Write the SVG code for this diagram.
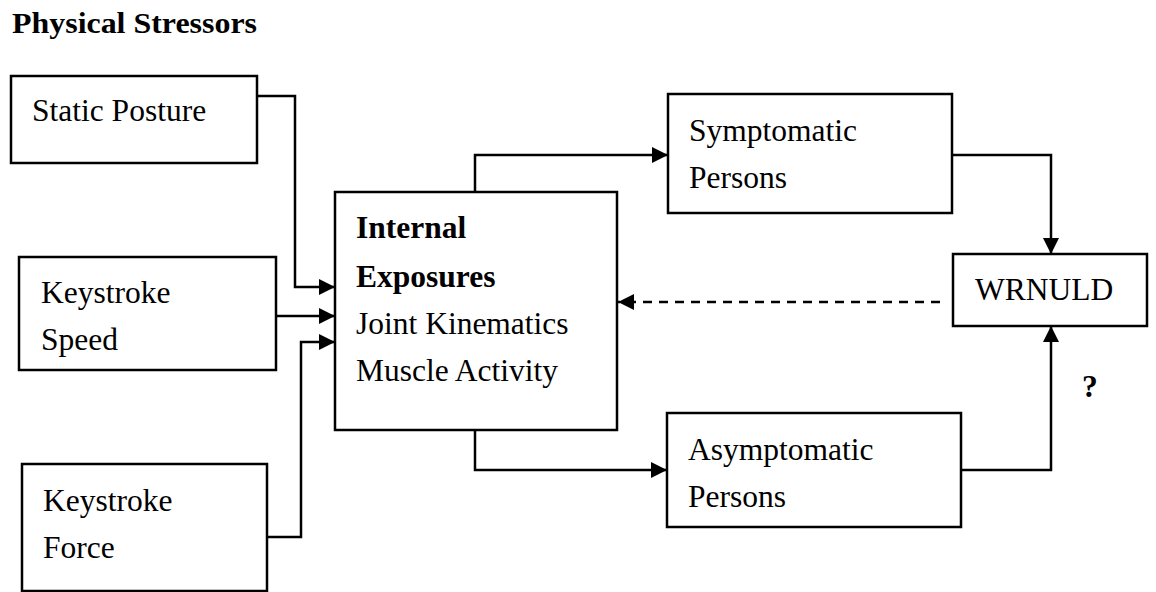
<svg xmlns="http://www.w3.org/2000/svg" width="1156" height="592" viewBox="0 0 1156 592">
<style>
.box{fill:#fff;stroke:#000;stroke-width:2.5}
.t{font-family:"Liberation Serif","Times New Roman",serif;font-size:31.5px;fill:#000}
.b{font-weight:bold}
.c{fill:none;stroke:#000;stroke-width:2.5}
.d{stroke-dasharray:9 7}
</style>
<defs>
<marker id="ah" markerUnits="userSpaceOnUse" markerWidth="16" markerHeight="16" viewBox="0 0 16 16" refX="16" refY="8" orient="auto">
<path d="M0,0 L16,8 L0,16 Z" fill="#000"/>
</marker>
</defs>
<rect width="1156" height="592" fill="#fff"/>
<text id="title" class="t b" x="12" y="33" style="font-size:29px" textLength="245" lengthAdjust="spacingAndGlyphs">Physical Stressors</text>
<g id="connectors">
<path class="c" d="M257,96 H295 V287 H335" marker-end="url(#ah)"/>
<path class="c" d="M272,316 H335" marker-end="url(#ah)"/>
<path class="c" d="M266,537 H301 V342 H335" marker-end="url(#ah)"/>
<path class="c" d="M475,192 V155 H668" marker-end="url(#ah)"/>
<path class="c" d="M475,430 V470 H667" marker-end="url(#ah)"/>
<path class="c" d="M952,155 H1051 V254" marker-end="url(#ah)"/>
<path class="c" d="M960,470 H1051 V326" marker-end="url(#ah)"/>
<path class="c d" d="M940,302 H618" marker-end="url(#ah)"/>
</g>
<g id="static-posture">
<rect class="box" x="11" y="76" width="246" height="87"/>
<text class="t" x="32" y="121">Static Posture</text>
</g>
<g id="keystroke-speed">
<rect class="box" x="19" y="257" width="257" height="113"/>
<text class="t" x="41" y="303">Keystroke</text>
<text class="t" x="41" y="350">Speed</text>
</g>
<g id="keystroke-force">
<rect class="box" x="22" y="464" width="245" height="127"/>
<text class="t" x="43" y="511">Keystroke</text>
<text class="t" x="43" y="558">Force</text>
</g>
<g id="internal-exposures">
<rect class="box" x="335" y="192" width="282" height="238"/>
<text class="t b" x="356" y="238">Internal</text>
<text class="t b" x="356" y="287">Exposures</text>
<text class="t" x="356" y="334">Joint Kinematics</text>
<text class="t" x="356" y="381">Muscle Activity</text>
</g>
<g id="symptomatic">
<rect class="box" x="668" y="94" width="284" height="119"/>
<text class="t" x="689" y="141">Symptomatic</text>
<text class="t" x="689" y="188">Persons</text>
</g>
<g id="asymptomatic">
<rect class="box" x="667" y="413" width="294" height="114"/>
<text class="t" x="688" y="460">Asymptomatic</text>
<text class="t" x="688" y="507">Persons</text>
</g>
<g id="wrnuld">
<rect class="box" x="953" y="254" width="194" height="72"/>
<text class="t" x="975" y="300">WRNULD</text>
</g>
<text id="question" class="t b" x="1082" y="397">?</text>
</svg>
